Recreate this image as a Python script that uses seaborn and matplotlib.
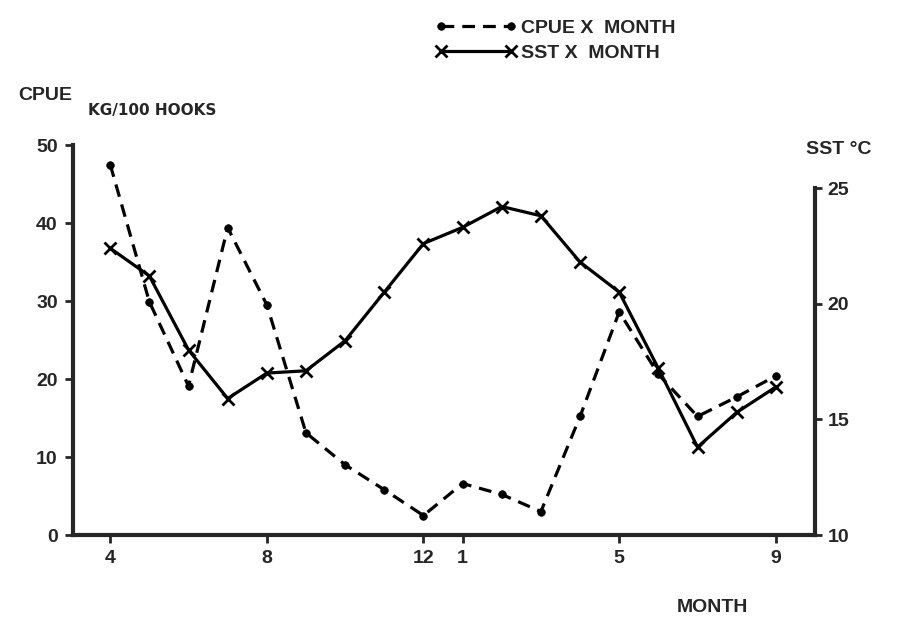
import matplotlib
import matplotlib.pyplot as plt
import pandas as pd
import seaborn as sns

matplotlib.use("Agg")

MONTHS = ["4", "5", "6", "7", "8", "9", "10", "11", "12",
          "1", "2", "3", "4", "5", "6", "7", "8", "9"]
CPUE = [47.5, 29.9, 19.1, 39.4, 29.5, 13.1, 9.0, 5.8, 2.5,
        6.6, 5.2, 3.0, 15.2, 28.6, 20.6, 15.2, 17.7, 20.4]
SST = [22.4, 21.2, 18.0, 15.9, 17.0, 17.1, 18.4, 20.5, 22.6,
       23.3, 24.2, 23.8, 21.8, 20.5, 17.2, 13.8, 15.3, 16.4]
TICK_IDX = [0, 4, 8, 9, 13, 17]
CPUE_TICKS = [0, 10, 20, 30, 40, 50]
SST_TICKS = [10, 15, 20, 25]

W, H = 907, 626


def build_frame() -> pd.DataFrame:
    df = pd.DataFrame({"month": MONTHS, "cpue": CPUE, "sst": SST})
    df["idx"] = range(len(df))
    return df


def plot_cpue_sst(df: pd.DataFrame) -> None:
    sns.set_style("ticks")
    plt.rcParams["font.family"] = ["Liberation Sans", "DejaVu Sans"]

    fig = plt.figure(figsize=(W / 100, H / 100), dpi=100)
    ax = fig.add_axes([73 / W, 91 / H, (815 - 73) / W, (535 - 145) / H])
    ax2 = ax.twinx()

    sns.lineplot(data=df, x="idx", y="cpue", ax=ax, color="black", lw=2.3,
                 linestyle=(0, (4, 2.5)), marker="o", markersize=5.5,
                 markeredgewidth=0.5, markeredgecolor="black",
                 markerfacecolor="black", legend=False)
    sns.lineplot(data=df, x="idx", y="sst", ax=ax2, color="black", lw=2.3,
                 marker="x", markersize=9, markeredgewidth=2,
                 markeredgecolor="black", legend=False)

    ax.set_xlim(-0.95, 18.0)
    ax.set_ylim(0, 50)
    ax2.set_ylim(10, 10 + 390 / 23.13)

    ax.set_xticks(TICK_IDX)
    ax.set_xticklabels([MONTHS[i] for i in TICK_IDX])
    ax.set_yticks(CPUE_TICKS)
    ax2.set_yticks(SST_TICKS)

    for a in (ax, ax2):
        a.set_xlabel("")
        a.set_ylabel("")
        a.spines["top"].set_visible(False)
        for s in a.spines.values():
            s.set_linewidth(3)
    ax.spines["right"].set_visible(False)
    ax2.spines["left"].set_visible(False)
    ax2.spines["bottom"].set_visible(False)
    ax2.spines["right"].set_bounds(10, 25)

    ax.tick_params(axis="both", direction="out", length=6, width=2,
                   labelsize=14, pad=5)
    ax2.tick_params(axis="y", direction="out", length=5, width=2,
                    labelsize=14, pad=4)
    for lab in ax.get_xticklabels() + ax.get_yticklabels() + ax2.get_yticklabels():
        lab.set_fontweight("bold")

    fig.text(18 / W, 1 - 96 / H, "CPUE", fontsize=14, fontweight="bold",
             va="center", ha="left")
    fig.text(88 / W, 1 - 110 / H, "KG/100 HOOKS", fontsize=11,
             fontweight="bold", va="center", ha="left",
             family=["Liberation Sans Narrow", "DejaVu Sans"])
    fig.text(806 / W, 1 - 150 / H, "SST °C", fontsize=14, fontweight="bold",
             va="center", ha="left")
    fig.text(712 / W, 1 - 607 / H, "MONTH", fontsize=14, fontweight="bold",
             va="center", ha="center")

    handles = ax.get_lines()[:1] + ax2.get_lines()[:1]
    labels = ["CPUE X  MONTH", "SST X  MONTH"]
    leg = fig.legend(handles, labels, loc="upper left",
                     bbox_to_anchor=(418 / W, 1 - 2 / H), frameon=False,
                     numpoints=2, handlelength=4.2, handletextpad=0.2,
                     labelspacing=0.35, fontsize=14)
    for t in leg.get_texts():
        t.set_fontweight("bold")

    fig.savefig("out.png", dpi=100)


if __name__ == "__main__":
    plot_cpue_sst(build_frame())
